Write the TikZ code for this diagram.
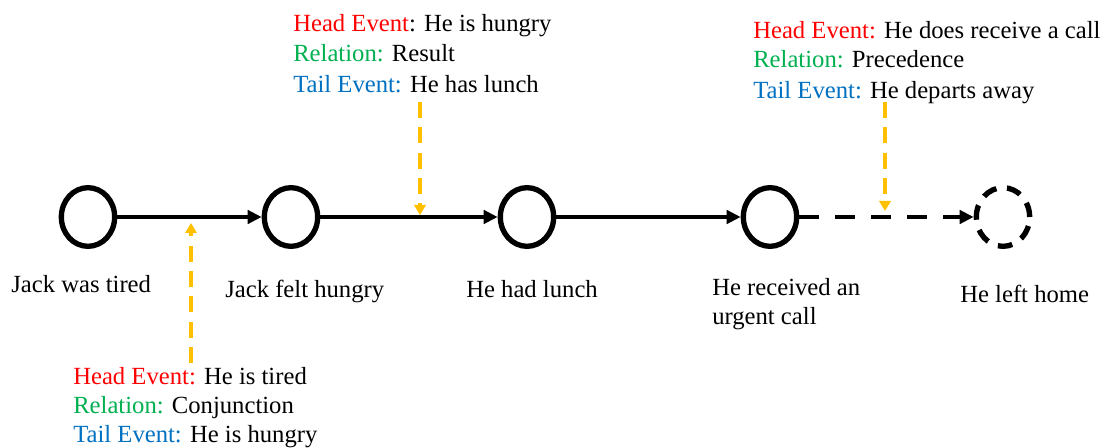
\documentclass[tikz,border=0pt]{standalone}
\usepackage{fontspec}
\setmainfont{Liberation Serif}
\newfontfamily\timesx{Liberation Serif}
\usetikzlibrary{arrows.meta,shapes.geometric}
\definecolor{hred}{RGB}{255,0,0}
\definecolor{rgreen}{RGB}{0,176,80}
\definecolor{tblue}{RGB}{0,112,192}
\definecolor{ayellow}{RGB}{255,192,0}
\begin{document}
\begin{tikzpicture}[x=0.75pt,y=-0.75pt,
  ev/.style={ellipse,draw=black,line width=4pt,minimum width=40pt,minimum height=44pt,inner sep=0pt},
  evdash/.style={ev,dash pattern=on 11pt off 8pt},
  txt/.style={anchor=base west,inner sep=0pt,font=\timesx\fontsize{18.5pt}{22pt}\selectfont},
  flow/.style={line width=3.3pt,-{Triangle[length=10.5pt,width=10pt]}},
  flowdash/.style={flow,dash pattern=on 15pt off 12pt},
  rel/.style={draw=ayellow,line width=2.6pt,dash pattern=on 12pt off 7pt,-{Triangle[length=7.5pt,width=8.5pt]}}
]
\useasboundingbox (0,0) rectangle (1102,448);
% event nodes
\node[ev] (c1) at (88,217) {};
\node[ev] (c2) at (291,217) {};
\node[ev] (c3) at (527,217) {};
\node[ev] (c4) at (770,217) {};
\node[evdash] (c5) at (1003,217) {};
% flow arrows
\draw[flow] (c1) -- (c2);
\draw[flow] (c2) -- (c3);
\draw[flow] (c3) -- (c4);
\draw[flowdash] (c4) -- (c5);
% event labels
\node[txt] (l1) at (11,293) {Jack was tired};
\node[txt] (l2) at (225,298) {Jack felt hungry};
\node[txt] (l3) at (466,298) {He had lunch};
\node[txt] (l4a) at (712,296) {He received an};
\node[txt] (l4b) at (712,325) {urgent call};
\node[txt] (l5) at (960,303) {He left home};
% relation annotation blocks
\node[txt] (a1) at (293,32) {\textcolor{hred}{Head Event}: He is hungry};
\node[txt] (a2) at (293,62) {\textcolor{rgreen}{Relation:} Result};
\node[txt] (a3) at (293,93) {\textcolor{tblue}{Tail Event:} He has lunch};
\node[txt] (b1) at (753,39) {\textcolor{hred}{Head Event:} He does receive a call};
\node[txt] (b2) at (753,68) {\textcolor{rgreen}{Relation:} Precedence};
\node[txt] (b3) at (753,99) {\textcolor{tblue}{Tail Event:} He departs away};
\node[txt] (d1) at (73,385) {\textcolor{hred}{Head Event:} He is tired};
\node[txt] (d2) at (73,414) {\textcolor{rgreen}{Relation:} Conjunction};
\node[txt] (d3) at (73,442) {\textcolor{tblue}{Tail Event:} He is hungry};
% yellow relation pointers
\coordinate (p1s) at (191,363);
\coordinate (p1e) at (191,223);
\coordinate (p2s) at (420,102);
\coordinate (p2e) at (420,215);
\coordinate (p3s) at (885,102);
\coordinate (p3e) at (885,211);
\draw[rel] (p1s) -- (p1e);
\draw[rel] (p2s) -- (p2e);
\draw[rel] (p3s) -- (p3e);
\end{tikzpicture}
\end{document}
